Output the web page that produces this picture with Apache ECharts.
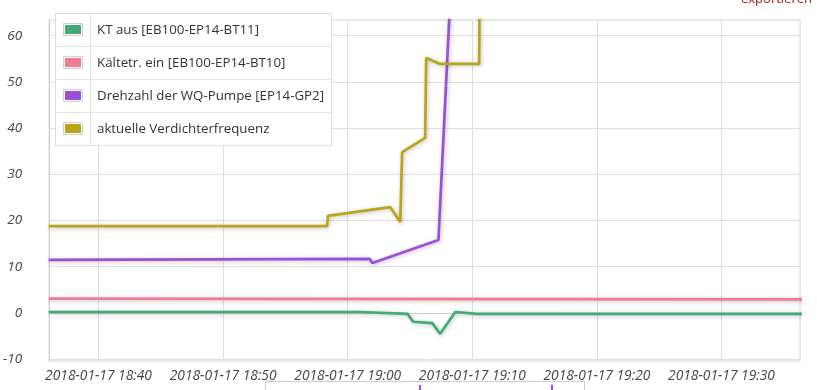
<!DOCTYPE html>
<html><head><meta charset="utf-8">
<script src="https://cdn.jsdelivr.net/npm/echarts@6/dist/echarts.min.js"></script>
<style>html,body{margin:0;padding:0;background:#fff}#c{width:817px;height:390px}</style>
</head><body><div id="c"></div>
<script>
const seriesNames = ['KT aus [EB100-EP14-BT11]', 'Kältetr. ein [EB100-EP14-BT10]', 'Drehzahl der WQ-Pumpe [EP14-GP2]', 'aktuelle Verdichterfrequenz'];
const seriesColors = ['#42ab74', '#f07b92', '#9b4fd6', '#b9a41a'];
const ktTimes = ['18:36:00', '19:01:00', '19:04:48', '19:05:15', '19:06:47', '19:07:25', '19:08:38', '19:10:24', '19:37:00'];
const ktValues = [0.2, 0.2, -0.2, -1.9, -2.2, -4.5, 0.2, -0.2, -0.2];
const kaelteTimes = ['18:36:00', '19:37:00'];
const kaelteValues = [3.1, 2.95];
const pumpeTimes = ['18:36:00', '19:01:45', '19:01:59', '19:07:17', '19:08:18', '19:37:00'];
const pumpeValues = [11.5, 11.7, 10.8, 15.8, 72, 72];
const verdTimes = ['18:36:00', '18:58:21', '18:58:25', '18:59:58', '19:03:25', '19:04:13', '19:04:22', '19:06:13', '19:06:18', '19:07:25', '19:10:33', '19:10:36', '19:37:00'];
const verdValues = [18.8, 18.8, 21.0, 21.6, 22.9, 19.7, 34.8, 37.9, 55.2, 53.9, 53.9, 75, 75];
const xTickTimes = ['18:40', '18:50', '19:00', '19:10', '19:20', '19:30'];
const yTickValues = [-10, 0, 10, 20, 30, 40, 50, 60];
const dateLabel = '2018-01-17';
const xMinTime = '18:36:02', xMaxTime = '19:36:18';
const yMin = -10.4, yMax = 63.4;
const exportText = 'exportieren';

function toMs(t) {
  const p = t.split(':').map(Number);
  return Date.UTC(2018, 0, 17, p[0], p[1], p[2] || 0);
}
function pad(n) { return (n < 10 ? '0' : '') + n; }
function pairs(ts, vs) { return ts.map((t, i) => [toMs(t), vs[i]]); }

const allData = [pairs(ktTimes, ktValues), pairs(kaelteTimes, kaelteValues), pairs(pumpeTimes, pumpeValues), pairs(verdTimes, verdValues)];

const legendGraphics = [];
const LX = 55, LY = 13, LW = 276, RH = 33, CW = 35;
legendGraphics.push({ type: 'rect', z: 100, shape: { x: LX + 0.5, y: LY + 0.5, width: LW, height: RH * 4 }, style: { fill: '#fff', stroke: '#dcdcdc', lineWidth: 1 } });
legendGraphics.push({ type: 'line', z: 101, shape: { x1: LX + CW + 0.5, y1: LY, x2: LX + CW + 0.5, y2: LY + RH * 4 }, style: { stroke: '#e4e4e4', lineWidth: 1 } });
seriesNames.forEach((name, i) => {
  const y0 = LY + RH * i;
  if (i > 0) legendGraphics.push({ type: 'line', z: 101, shape: { x1: LX, y1: y0 + 0.5, x2: LX + LW, y2: y0 + 0.5 }, style: { stroke: '#e4e4e4', lineWidth: 1 } });
  legendGraphics.push({ type: 'rect', z: 102, shape: { x: 63.5, y: y0 + 10.5, width: 19, height: 12 }, style: { fill: '#fff', stroke: '#d0d0d0', lineWidth: 1 } });
  legendGraphics.push({ type: 'rect', z: 103, shape: { x: 65, y: y0 + 12, width: 16, height: 9 }, style: { fill: seriesColors[i] } });
  legendGraphics.push({ type: 'text', z: 103, x: 97, y: y0 + 17, style: { text: name, fill: '#333', font: '13.3px "Open Sans", sans-serif', verticalAlign: 'middle', align: 'left' } });
});

const chart = echarts.init(document.getElementById('c'), null, { renderer: 'canvas' });
chart.setOption({
  animation: false,
  backgroundColor: '#fff',
  grid: { left: 49, right: 17, top: 20, bottom: 29, show: true, borderColor: '#d4d4d4', borderWidth: 1 },
  xAxis: {
    type: 'value', min: toMs(xMinTime), max: toMs(xMaxTime),
    axisLine: { show: true, lineStyle: { color: '#ccc' } },
    axisTick: { show: false, customValues: xTickTimes.map(toMs) },
    splitLine: { show: true, lineStyle: { color: '#dedede' } },
    axisLabel: {
      customValues: xTickTimes.map(toMs), margin: 8, color: '#444', fontStyle: 'italic', fontSize: 13.8, fontFamily: '"Open Sans", sans-serif',
      formatter: v => { const d = new Date(v); return dateLabel + ' ' + pad(d.getUTCHours()) + ':' + pad(d.getUTCMinutes()); }
    }
  },
  yAxis: {
    type: 'value', min: yMin, max: yMax,
    axisLine: { show: true, lineStyle: { color: '#ccc' } },
    axisTick: { show: false, customValues: yTickValues },
    splitLine: { show: true, lineStyle: { color: '#dedede' } },
    axisLabel: { customValues: yTickValues, margin: 27, color: '#444', fontStyle: 'italic', fontSize: 13.5, fontFamily: '"Open Sans", sans-serif' }
  },
  series: seriesNames.map((name, i) => ({
    name: name, type: 'line', data: allData[i], showSymbol: false, clip: true,
    lineStyle: { color: seriesColors[i], width: 2.7, shadowBlur: 4, shadowColor: 'rgba(0,0,0,0.25)', shadowOffsetX: 1, shadowOffsetY: 1 },
    itemStyle: { color: seriesColors[i] }
  })),
  graphic: legendGraphics.concat([
    { type: 'text', x: 812, y: -1, style: { text: exportText, fill: '#a81818', font: '13px "Open Sans", sans-serif', align: 'right', verticalAlign: 'middle' } },
    { type: 'polyline', shape: { points: [[265.5, 392], [265.5, 381.5], [584.5, 381.5], [584.5, 392]] }, style: { stroke: '#cfcfcf', lineWidth: 1, fill: null } },
    { type: 'line', shape: { x1: 420, y1: 385, x2: 420, y2: 392 }, style: { stroke: '#9b4fd6', lineWidth: 2 } },
    { type: 'line', shape: { x1: 552, y1: 385, x2: 552, y2: 392 }, style: { stroke: '#9b4fd6', lineWidth: 2 } }
  ])
});
</script></body></html>
